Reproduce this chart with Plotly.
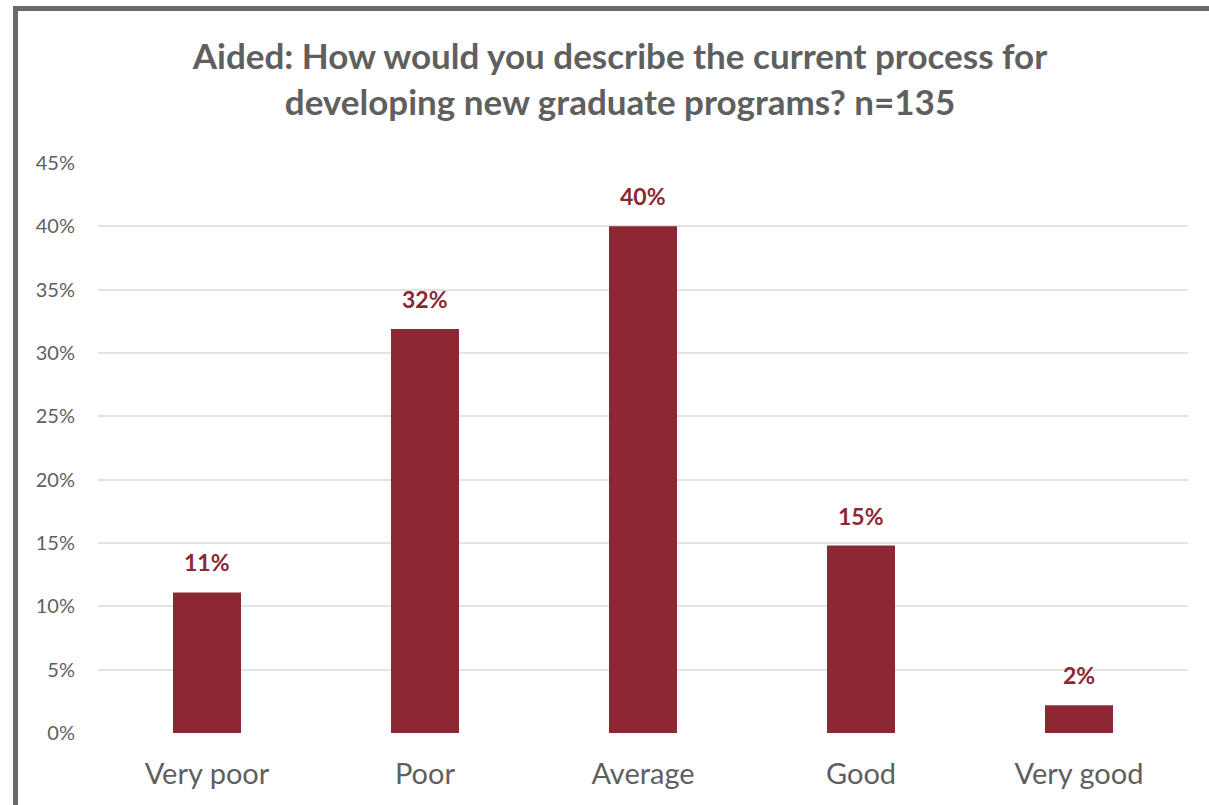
import plotly.graph_objects as go

categories = ["Very poor", "Poor", "Average", "Good", "Very good"]
shares = [0.111, 0.319, 0.400, 0.148, 0.022]
tick_vals = [0, 0.05, 0.10, 0.15, 0.20, 0.25, 0.30, 0.35, 0.40, 0.45]
tick_text = ["0%", "5%", "10%", "15%", "20%", "25%", "30%", "35%", "40%", "45%"]

BAR = "#8C2834"
GRAY = "#5f5f5f"
FONT = "Lato"

W, H = 1209, 805
L, R, T, B = 98, 21, 163, 72

fig = go.Figure(
    go.Bar(
        x=categories,
        y=shares,
        marker=dict(color=BAR, line=dict(width=0)),
    )
)

# value labels above each bar
for cat, val in zip(categories, shares):
    fig.add_annotation(
        x=cat, y=val, xref="x", yref="y",
        text=f"{val:.0%}", showarrow=False,
        yanchor="middle", yshift=30,
        font=dict(family=FONT, size=23, color=BAR, weight="bold"),
    )

# frame around the chart area (left and top edges visible)
pw, ph = W - L - R, H - T - B
def px_x(v):
    return (v - L) / pw
def px_y(v):
    return (H - B - v) / ph

fig.add_shape(
    type="rect", xref="paper", yref="paper",
    x0=px_x(15.5), x1=px_x(W + 20), y0=px_y(H + 20), y1=px_y(8.5),
    line=dict(color="#6a6a6a", width=5), fillcolor="rgba(0,0,0,0)",
    layer="above",
)

fig.update_layout(
    width=W, height=H,
    margin=dict(l=L, r=R, t=T, b=B),
    paper_bgcolor="white", plot_bgcolor="white",
    bargap=0.688,
    showlegend=False,
    title=dict(
        text="Aided: How would you describe the current process for<br>developing new graduate programs? n=135",
        x=620 / W, xanchor="center",
        y=1 - 69 / H, yanchor="middle",
        font=dict(family=FONT, size=35, color=GRAY, weight="bold"),
    ),
    xaxis=dict(
        showgrid=False, showline=False, ticks="",
        ticklabelstandoff=21,
        tickfont=dict(family=FONT, size=29, color=GRAY),
    ),
    yaxis=dict(
        range=[0, 0.45],
        tickvals=tick_vals, ticktext=tick_text,
        showgrid=True, gridcolor="#e3e3e3", gridwidth=1.5,
        zeroline=False, showline=False, ticks="",
        ticklabelstandoff=22,
        tickfont=dict(family=FONT, size=20, color=GRAY),
    ),
)

fig.write_html("out.html")
